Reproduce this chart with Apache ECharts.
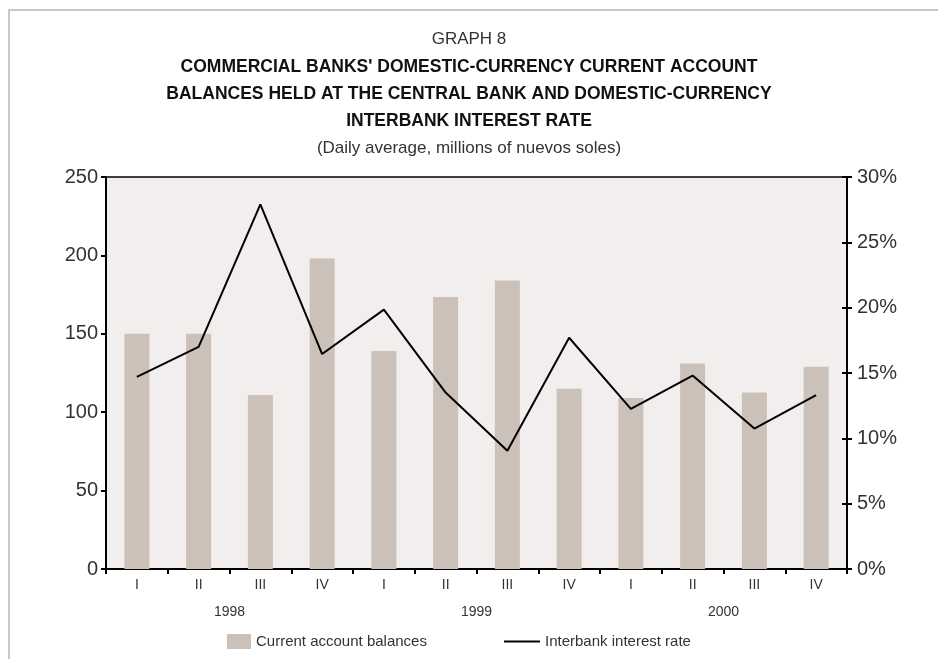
<!DOCTYPE html>
<html>
<head>
<meta charset="utf-8">
<script src="https://cdn.jsdelivr.net/npm/echarts@6/dist/echarts.min.js"></script>
<style>
html,body{margin:0;padding:0;background:#fff;}
#frame{position:absolute;left:8px;top:9px;right:0;bottom:0;border-left:2px solid #cfc5bc;border-top:2px solid #cfc5bc;}
#chart{position:absolute;left:0;top:0;width:938px;height:659px;}
</style>
</head>
<body>
<div id="frame"></div>
<div id="chart"></div>
<script>
const quarters = ['I','II','III','IV','I','II','III','IV','I','II','III','IV'];
const years = ['1998','1999','2000'];
const balances = [150, 150, 111, 198, 139, 173.5, 184, 115, 109, 131, 112.5, 129];
const interbankRate = [14.7, 17.0, 27.9, 16.45, 19.85, 13.5, 9.05, 17.7, 12.25, 14.8, 10.75, 13.3];
const leftTicks = [0, 50, 100, 150, 200, 250];
const rightTicks = [0, 5, 10, 15, 20, 25, 30];

const regular = "'Liberation Sans', Arial, sans-serif";
const txt = '#333333';

const chart = echarts.init(document.getElementById('chart'), null, {renderer: 'canvas'});
chart.setOption({
  backgroundColor: 'transparent',
  animation: false,
  title: [
    {text: 'GRAPH 8', left: 'center', top: 26, textStyle: {fontFamily: regular, fontSize: 17, fontWeight: 'normal', color: txt}},
    {text: "COMMERCIAL BANKS' DOMESTIC-CURRENCY CURRENT ACCOUNT\nBALANCES HELD AT THE CENTRAL BANK AND DOMESTIC-CURRENCY\nINTERBANK INTEREST RATE",
     left: 'center', top: 49,
     textStyle: {fontFamily: regular, fontSize: 17.5, fontWeight: 'bold', color: '#111', lineHeight: 27, align: 'center'}},
    {text: '(Daily average, millions of nuevos soles)', left: 'center', top: 135, textStyle: {fontFamily: regular, fontSize: 17, fontWeight: 'normal', color: txt}}
  ],
  legend: [
    {data: [{name: 'Current account balances', icon: 'rect'}], left: 227, top: 634, padding: 0, itemWidth: 24, itemHeight: 15,
     textStyle: {fontFamily: regular, fontSize: 15, color: txt}},
    {data: [{name: 'Interbank interest rate', icon: 'rect', itemStyle: {color: '#000'}}], left: 504, top: 634, padding: 0, itemWidth: 36, itemHeight: 2,
     textStyle: {fontFamily: regular, fontSize: 15, color: txt}}
  ],
  grid: {left: 106, right: 91, top: 177, bottom: 90, show: true, backgroundColor: '#f2eeed', borderColor: '#000', borderWidth: 1.5},
  xAxis: [
    {type: 'category', data: quarters, position: 'bottom',
     axisLine: {lineStyle: {color: '#000', width: 2}},
     axisTick: {show: true, length: 5, lineStyle: {color: '#000', width: 2}},
     axisLabel: {fontFamily: regular, fontSize: 14, color: txt, margin: 9}},
    {type: 'category', data: years, position: 'bottom', offset: 27,
     axisLine: {show: false}, axisTick: {show: false},
     axisLabel: {fontFamily: regular, fontSize: 14, color: txt, margin: 9}}
  ],
  yAxis: [
    {type: 'value', min: 0, max: 250, interval: 50, position: 'left',
     axisLine: {show: true, lineStyle: {color: '#000', width: 2}},
     axisTick: {show: true, length: 5, lineStyle: {color: '#000', width: 2}},
     splitLine: {show: false},
     axisLabel: {fontFamily: regular, fontSize: 20, color: txt, margin: 8,
       formatter: v => leftTicks.includes(v) ? String(v) : ''}},
    {type: 'value', min: 0, max: 30, interval: 5, position: 'right',
     axisLine: {show: true, lineStyle: {color: '#000', width: 2}},
     axisTick: {show: true, length: 5, lineStyle: {color: '#000', width: 2}},
     splitLine: {show: false},
     axisLabel: {fontFamily: regular, fontSize: 20, color: txt, margin: 10,
       formatter: v => rightTicks.includes(v) ? v + '%' : ''}},
    {type: 'value', min: 0, max: 30, interval: 5, position: 'right',
     axisLine: {show: false},
     axisTick: {show: true, inside: true, length: 5, lineStyle: {color: '#000', width: 2}},
     splitLine: {show: false}, axisLabel: {show: false}}
  ],
  series: [
    {name: 'Current account balances', type: 'bar', data: balances, xAxisIndex: 0, yAxisIndex: 0,
     barWidth: 25, itemStyle: {color: '#cbc1b8'}},
    {name: 'Interbank interest rate', type: 'line', data: interbankRate, xAxisIndex: 0, yAxisIndex: 1,
     symbol: 'none', lineStyle: {color: '#000', width: 2}, itemStyle: {color: '#000'}}
  ]
});
</script>
</body>
</html>
